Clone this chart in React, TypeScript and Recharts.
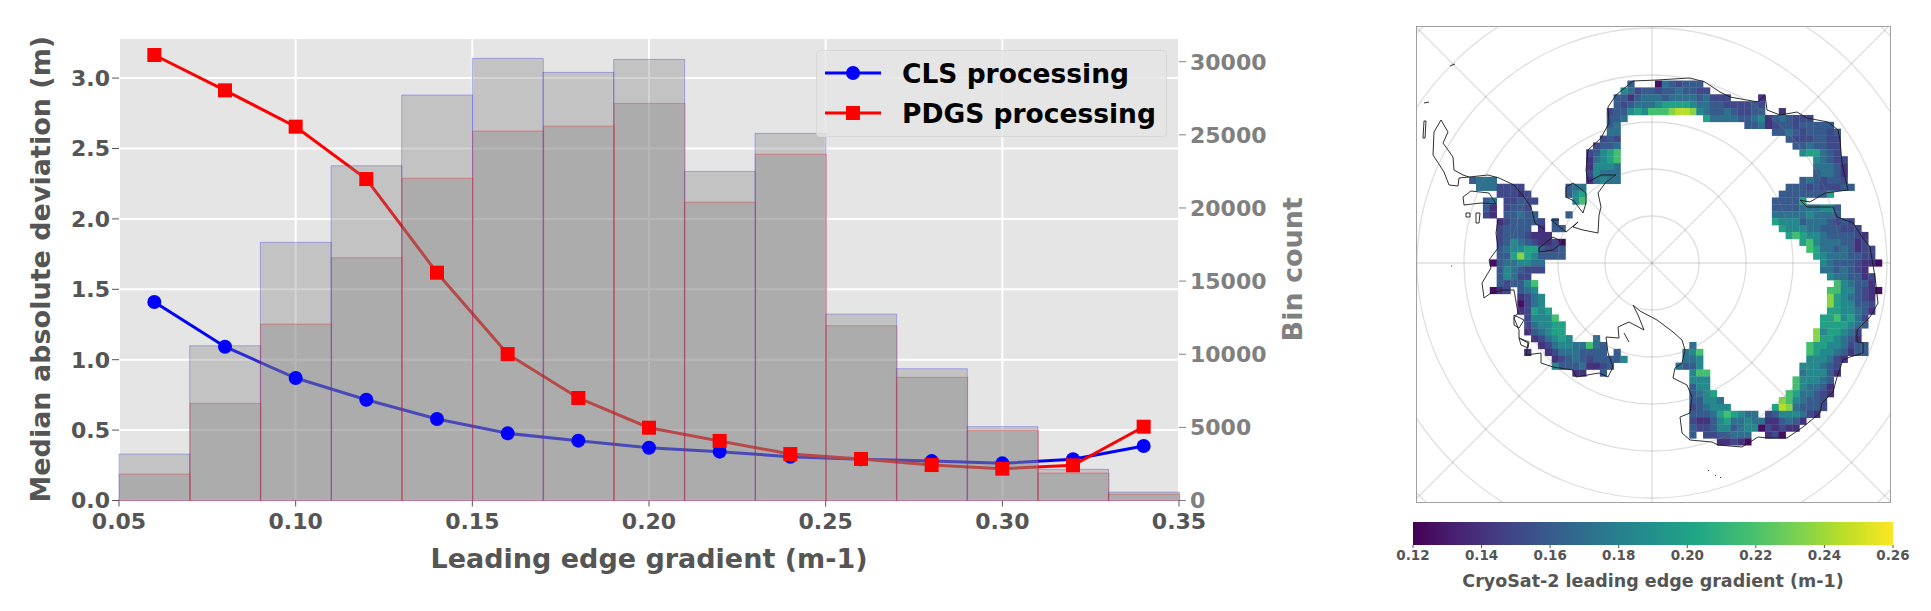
import {
  ComposedChart,
  ScatterChart,
  Scatter,
  Bar,
  Line,
  XAxis,
  YAxis,
  CartesianGrid,
  Legend,
  ReferenceArea,
  ReferenceLine,
  ReferenceDot,
} from 'recharts';

const FONT = '"DejaVu Sans", sans-serif';

// left panel
const binCentres = [0.06, 0.08, 0.1, 0.12, 0.14, 0.16, 0.18, 0.2, 0.22, 0.24, 0.26, 0.28, 0.3, 0.32, 0.34];
const clsMad = [1.41, 1.092, 0.87, 0.716, 0.579, 0.477, 0.425, 0.375, 0.347, 0.311, 0.293, 0.28, 0.264, 0.293, 0.387];
const pdgsMad = [3.164, 2.913, 2.655, 2.283, 1.618, 1.04, 0.728, 0.517, 0.423, 0.33, 0.295, 0.252, 0.226, 0.25, 0.524];
const clsCount = [3180, 10580, 17650, 22890, 27720, 30230, 29270, 30160, 22500, 25100, 12750, 9010, 5050, 2130, 580];
const pdgsCount = [1810, 6640, 12060, 16600, 22030, 25260, 25600, 27150, 20400, 23670, 11950, 8420, 4800, 1880, 440];
const xTicks = [0.05, 0.1, 0.15, 0.2, 0.25, 0.3, 0.35];
const madTicks = [0, 0.5, 1, 1.5, 2, 2.5, 3];
const countTicks = [0, 5000, 10000, 15000, 20000, 25000, 30000];

const histData = binCentres.map((bin, i) => ({
  bin,
  cls: clsMad[i],
  pdgs: pdgsMad[i],
  clsCount: clsCount[i],
  pdgsCount: pdgsCount[i],
}));

// right panel: colour scale
const viridis = ['#440154', '#482475', '#414487', '#355f8d', '#2a788e', '#21918c', '#22a884', '#44bf70', '#7ad151', '#bddf26', '#fde725'];
const gradientTicks = [0.12, 0.14, 0.16, 0.18, 0.2, 0.22, 0.24, 0.26];
const levelValues = [0.125, 0.14, 0.15, 0.16, 0.172, 0.185, 0.2, 0.218, 0.235, 0.245];

// gridded gradient, one entry per map row, [first column, digits of levelValues]
const gridRows: [number, string][][] = [
  [[23, '3'], [27, '0432333']],
  [[22, '5423323343322']],
  [[21, '33134443444434222'], [42, '1']],
  [[21, '3234445666654433222232']],
  [[20, '23356577789985433432233'], [45, '1']],
  [[20, '334'], [34, '6444433451343222']],
  [[20, '34'], [40, '3341233233333']],
  [[20, '44'], [44, '3343233323']],
  [[19, '232'], [46, '32223322']],
  [[18, '2334'], [47, '3343322']],
  [[17, '23567'], [48, '566432']],
  [[17, '14567'], [50, '54322']],
  [[17, '15554'], [50, '44431']],
  [[17, '25444'], [50, '34431']],
  [[0, '3444'], [17, '14544'], [48, '3432332']],
  [[1, '4442222'], [14, '344'], [46, '3332322233']],
  [[4, '22212'], [14, '356'], [45, '33333336']],
  [[2, '34'], [5, '22322'], [15, '57'], [44, '33336']],
  [[2, '31'], [5, '2332'], [44, '3333444553']],
  [[2, '21'], [5, '33433'], [14, '3'], [44, '4444454443']],
  [[4, '1233332'], [12, '3'], [44, '655534443232']],
  [[4, '23333'], [10, '1'], [12, '33'], [45, '655544333222']],
  [[4, '23332111'], [46, '676554333321']],
  [[4, '2354321120'], [48, '6754443312']],
  [[4, '3455663223'], [49, '7644343122']],
  [[4, '3368653333'], [50, '654443322']],
  [[3, '03445544'], [51, '543332110']],
  [[4, '3543222'], [51, '4434321']],
  [[4, '35422'], [52, '5443312']],
  [[4, '323357'], [53, '754331']],
  [[3, '012'], [7, '345'], [52, '77553210']],
  [[7, '1245'], [52, '8654321']],
  [[7, '0245'], [52, '8655332']],
  [[7, '12656'], [52, '6655431']],
  [[8, '25557'], [51, '6675642']],
  [[8, '245566'], [51, '6666543']],
  [[8, '134566'], [50, '8566542']],
  [[9, '124565'], [18, '4'], [50, '8665431']],
  [[10, '1245544743'], [32, '4'], [49, '7665542'], [56, '33']],
  [[8, '1'], [11, '124443333'], [21, '3'], [31, '457'], [49, '765543133']],
  [[12, '123432333'], [21, '35'], [31, '445'], [49, '555421']],
  [[12, '533341123'], [30, '4335'], [48, '555432']],
  [[15, '11'], [19, '3'], [32, '577'], [48, '455531']],
  [[32, '555'], [47, '755543']],
  [[32, '355'], [47, '754431']],
  [[32, '3456'], [46, '7644321']],
  [[32, '33554'], [45, '8754332']],
  [[32, '234555'], [44, '69843332']],
  [[32, '3334676544'], [43, '23555421']],
  [[32, '21135644544113431']],
  [[32, '3223553455021211']],
  [[32, '3'], [34, '2233444'], [43, '120']],
  [[36, '11210']],
];

// coastline and ice shelf outlines, map units from the pole
const coastMain = [
  [-154, 43], [-156, 30], [-154, 15], [-163, 3], [-161, -5], [-170, -20], [-168, -35], [-161, -30], [-150, -27], [-138, -27],
  [-134, -50], [-138, -55], [-133, -67], [-133, -75], [-124, -80], [-126, -92], [-111, -90], [-111, -100], [-99, -104], [-79, -107],
  [-76, -114], [-53, -110], [-44, -114], [-39, -104], [-44, -90], [-46, -74], [-33, -75], [-34, -64], [-23, -59], [-8, -67],
  [-14, -52], [-19, -42], [-12, -48], [5, -57], [21, -69], [30, -77], [33, -87], [30, -100], [23, -105], [21, -115],
  [35, -122], [40, -134], [38, -150], [28, -154], [30, -170], [38, -177], [60, -179], [66, -182], [90, -184], [106, -174],
  [116, -175], [135, -175], [151, -164], [168, -150], [170, -140], [181, -129], [185, -114], [191, -97], [198, -94], [211, -90],
  [211, -80], [205, -79], [205, -67], [218, -54], [226, -40], [223, -14], [218, 16], [210, 26], [201, 40], [185, 46],
  [181, 56], [155, 56], [148, 63], [158, 61], [173, 70], [196, 73], [190, 100], [188, 123], [186, 133], [176, 141],
  [155, 145], [145, 151], [128, 148], [115, 153], [113, 168], [106, 161], [78, 166], [68, 171], [53, 181], [38, 185],
  [5, 183], [-19, 182], [-36, 168], [-44, 156], [-43, 140], [-51, 125], [-64, 113], [-66, 93], [-64, 81], [-51, 88],
  [-36, 88], [-46, 81], [-54, 70], [-51, 56], [-53, 48], [-54, 30], [-69, 33], [-79, 36], [-74, 41], [-86, 31], [-101, 43], [-93, 43],
];
const peninsulaEast = [
  [-211, 143], [-204, 131], [-209, 120], [-199, 106], [-198, 93], [-189, 88], [-183, 86], [-164, 88], [-153, 85], [-138, 78],
  [-128, 66], [-121, 56], [-117, 40], [-107, 33],
];
const peninsulaWest = [[-211, 143], [-218, 131], [-219, 108], [-208, 91], [-203, 78], [-194, 77], [-193, 85], [-183, 86]];
const filchnerShelf = [[-181, 72], [-189, 66], [-188, 58], [-171, 60], [-156, 59], [-163, 70], [-181, 72]];
const berknerIsland = [[-86, 76], [-79, 80], [-66, 70], [-66, 60], [-69, 50], [-78, 62], [-86, 66], [-86, 76]];
const amerySide = [[-113, 15], [-99, 26], [-89, 21], [-99, 13], [-113, 11], [-113, 15]];
const smallIslands = [
  [[-186, 50], [-182, 50], [-182, 46], [-186, 46], [-186, 50]],
  [[-176, 50], [-172, 50], [-173, 40], [-176, 40], [-176, 50]],
  [[-228, 142], [-226, 142], [-227, 125], [-229, 125], [-228, 142]],
  [[-202, 197], [-197, 199]],
  [[-228, 160], [-223, 161]],
  [[-138, -52], [-128, -57], [-133, -65], [-138, -62], [-138, -52]],
  [[-133, -75], [-123, -79], [-124, -85], [-131, -82], [-133, -75]],
  [[-28, -70], [-23, -79]],
  [[56, -207], [57, -208]],
  [[63, -212], [64, -213]],
  [[68, -214], [69, -215]],
  [[-201, -3], [-200, -3]],
];
const coastLines = [coastMain, peninsulaEast, peninsulaWest, filchnerShelf, berknerIsland, amerySide, ...smallIslands];

const circleRadii = [47, 94, 141, 188, 235, 282, 329];
const meridianEnds = [[238, 0], [-235, 0], [0, 236], [0, -239], [236, 236], [-235, 235], [239, -239], [-239, -239]];

const CELL = 6.88;
const GRID_X0 = -182.7;
const GRID_Y0 = 182.3;

const colourAt = (value: number) => {
  const t = Math.min(Math.max((value - 0.12) / 0.14, 0), 1) * (viridis.length - 1);
  const i = Math.min(Math.floor(t), viridis.length - 2);
  const mix = (a: string, b: string, f: number) => {
    const ch = (s: string, n: number) => parseInt(s.slice(1 + n * 2, 3 + n * 2), 16);
    return [0, 1, 2].map((n) => Math.round(ch(a, n) + (ch(b, n) - ch(a, n)) * f));
  };
  return `rgb(${mix(viridis[i], viridis[i + 1], t - i).join(',')})`;
};

const cellData = gridRows.flatMap((segments, row) =>
  segments.flatMap(([start, digits]) =>
    digits.split('').map((d, k) => ({
      x: GRID_X0 + CELL * (start + k + 0.5),
      y: GRID_Y0 - CELL * (row + 0.5),
      value: levelValues[Number(d)],
    })),
  ),
);

const CellSquare = ({ cx, cy, payload }: any) => (
  <rect x={cx - 3.6} y={cy - 3.6} width={7.2} height={7.2} fill={colourAt(payload.value)} />
);

const SquareDot = ({ cx, cy, index }: any) => (
  <rect key={`sq-${index}`} x={cx - 7} y={cy - 7} width={14} height={14} fill="#ff0000" />
);

const axisFont = (fill: string, fontSize: number) => ({ fill, fontSize, fontWeight: 700, fontFamily: FONT });

// rotated axis title, cx is taken from the left of the axis box
const SideTitle = ({ viewBox, text, cx, fill }: any) => {
  const x = viewBox.x + cx;
  const y = viewBox.y + viewBox.height / 2;
  return (
    <text x={x} y={y} transform={`rotate(-90 ${x} ${y})`} textAnchor="middle" dominantBaseline="central" {...axisFont(fill, 27)}>
      {text}
    </text>
  );
};

const LegendBox = ({ payload }: any) => (
  <div
    style={{
      width: 351,
      height: 87,
      boxSizing: 'border-box',
      background: 'rgba(229,229,229,0.8)',
      border: '1px solid #d8d8d8',
      borderRadius: 4,
      padding: '2px 0 0 8px',
      fontFamily: FONT,
      fontWeight: 700,
      fontSize: 26.5,
      color: '#000',
    }}
  >
    {(payload || [])
      .filter((entry: any) => entry.dataKey === 'cls' || entry.dataKey === 'pdgs')
      .map((entry: any) => (
        <div key={entry.value} style={{ display: 'flex', alignItems: 'center', height: 40, whiteSpace: 'nowrap' }}>
          <svg width={56} height={20} style={{ marginRight: 21 }}>
            <line x1={0} y1={10} x2={56} y2={10} stroke={entry.color} strokeWidth={3} />
            {entry.dataKey === 'cls' ? (
              <circle cx={28} cy={10} r={7} fill={entry.color} />
            ) : (
              <rect x={21} y={3} width={14} height={14} fill={entry.color} />
            )}
          </svg>
          <span>{entry.value}</span>
        </div>
      ))}
  </div>
);

export default function App() {
  return (
    <div style={{ position: 'absolute', left: 0, top: 0, width: 1931, height: 611, background: '#fff', overflow: 'hidden' }}>
      <div style={{ position: 'absolute', left: 0, top: 0 }}>
        <ComposedChart
          width={1310}
          height={611}
          data={histData}
          margin={{ top: 38, right: 0, bottom: 0, left: 0 }}
          barCategoryGap={0}
          barGap="-100%"
        >
          <CartesianGrid xAxisId="num" yAxisId="mad" fill="#e5e5e5" stroke="#ffffff" strokeWidth={2} />
          <XAxis
            xAxisId="num"
            dataKey="bin"
            type="number"
            domain={[0.05, 0.35]}
            ticks={xTicks}
            tickFormatter={(v) => v.toFixed(2)}
            height={110.5}
            axisLine={false}
            tickLine={{ stroke: '#555555' }}
            tickSize={6}
            tickMargin={7}
            tick={axisFont('#555555', 22)}
            interval={0}
            label={{ value: 'Leading edge gradient (m-1)', position: 'insideBottom', offset: 43, ...axisFont('#555555', 27) }}
          />
          <XAxis xAxisId="bins" dataKey="bin" type="category" scale="band" height={0} hide />
          <YAxis
            yAxisId="mad"
            width={119}
            domain={[0, 3.2848]}
            ticks={madTicks}
            tickFormatter={(v) => v.toFixed(1)}
            axisLine={false}
            tickLine={{ stroke: '#555555' }}
            tickSize={7}
            tick={axisFont('#555555', 22)}
            interval={0}
            label={{ content: (p: any) => <SideTitle {...p} text="Median absolute deviation (m)" cx={40} fill="#555555" /> }}
          />
          <YAxis
            yAxisId="count"
            orientation="right"
            width={131}
            domain={[0, 31620]}
            ticks={countTicks}
            axisLine={false}
            tickLine={{ stroke: '#808080' }}
            tickSize={7}
            tickMargin={4}
            tick={axisFont('#808080', 22)}
            interval={0}
            label={{ content: (p: any) => <SideTitle {...p} text="Bin count" cx={113} fill="#808080" /> }}
          />
          <Line
            xAxisId="bins"
            yAxisId="mad"
            dataKey="cls"
            name="CLS processing"
            stroke="#0000ff"
            strokeWidth={3}
            dot={{ r: 7, fill: '#0000ff', stroke: '#0000ff', strokeWidth: 0 }}
            activeDot={false}
            isAnimationActive={false}
            zIndex={200}
          />
          <Line
            xAxisId="bins"
            yAxisId="mad"
            dataKey="pdgs"
            name="PDGS processing"
            stroke="#ff0000"
            strokeWidth={3}
            dot={SquareDot}
            activeDot={false}
            isAnimationActive={false}
            zIndex={200}
          />
          <Bar
            xAxisId="bins"
            yAxisId="count"
            dataKey="clsCount"
            fill="rgba(128,128,128,0.34)"
            stroke="rgba(0,0,255,0.25)"
            legendType="none"
            isAnimationActive={false}
          />
          <Bar
            xAxisId="bins"
            yAxisId="count"
            dataKey="pdgsCount"
            fill="rgba(128,128,128,0.34)"
            stroke="rgba(255,0,0,0.3)"
            legendType="none"
            isAnimationActive={false}
          />
          <Legend
            layout="horizontal"
            align="center"
            verticalAlign="middle"
            wrapperStyle={{ left: 816, top: 50, width: 351, height: 87 }}
            content={LegendBox}
          />
        </ComposedChart>
      </div>

      <div
        style={{
          position: 'absolute',
          left: 1416,
          top: 26,
          width: 475,
          height: 477,
          boxSizing: 'border-box',
          border: '1px solid #a0a0a0',
        }}
      >
        <ScatterChart width={473} height={475} margin={{ top: 0, right: 0, bottom: 0, left: 0 }}>
          <XAxis type="number" dataKey="x" domain={[-235, 238]} hide />
          <YAxis type="number" dataKey="y" domain={[-239, 236]} width={0} hide />
          <Scatter data={cellData} shape={CellSquare} isAnimationActive={false} />
          {coastLines.map((points, i) => (
            <Scatter
              key={i}
              data={points.map(([x, y]) => ({ x, y }))}
              line={{ stroke: '#1a1a1a', strokeWidth: 0.9 }}
              shape={() => <g />}
              isAnimationActive={false}
            />
          ))}
          {circleRadii.map((r) => (
            <ReferenceDot key={r} x={0} y={0} r={r} fill="none" stroke="rgba(128,128,128,0.25)" strokeWidth={1.3} />
          ))}
          {meridianEnds.map(([x, y]) => (
            <ReferenceLine
              key={`${x}-${y}`}
              segment={[{ x: 0, y: 0 }, { x, y }]}
              stroke="rgba(128,128,128,0.25)"
              strokeWidth={1.3}
              ifOverflow="visible"
            />
          ))}
        </ScatterChart>
      </div>

      <div style={{ position: 'absolute', left: 1383, top: 522 }}>
        <ComposedChart
          width={540}
          height={89}
          data={gradientTicks.map((v, i) => ({ v, y: i % 2 }))}
          margin={{ top: 0, right: 30, bottom: 0, left: 30 }}
        >
          <defs>
            <linearGradient id="viridisBar" x1="0" y1="0" x2="1" y2="0">
              {viridis.map((c, i) => (
                <stop key={c} offset={i / (viridis.length - 1)} stopColor={c} />
              ))}
            </linearGradient>
          </defs>
          <XAxis
            type="number"
            dataKey="v"
            domain={[0.12, 0.26]}
            ticks={gradientTicks}
            tickFormatter={(v) => v.toFixed(2)}
            height={66}
            axisLine={false}
            tickLine={{ stroke: '#555555' }}
            tickSize={3}
            tick={axisFont('#555555', 13.5)}
            interval={0}
            label={{ value: 'CryoSat-2 leading edge gradient (m-1)', position: 'insideBottom', offset: 24, ...axisFont('#555555', 17.5) }}
          />
          <YAxis type="number" dataKey="y" domain={[0, 1]} width={0} hide />
          <ReferenceArea x1={0.12} x2={0.26} y1={0} y2={1} fill="url(#viridisBar)" fillOpacity={1} stroke="none" ifOverflow="visible" />
        </ComposedChart>
      </div>
    </div>
  );
}
